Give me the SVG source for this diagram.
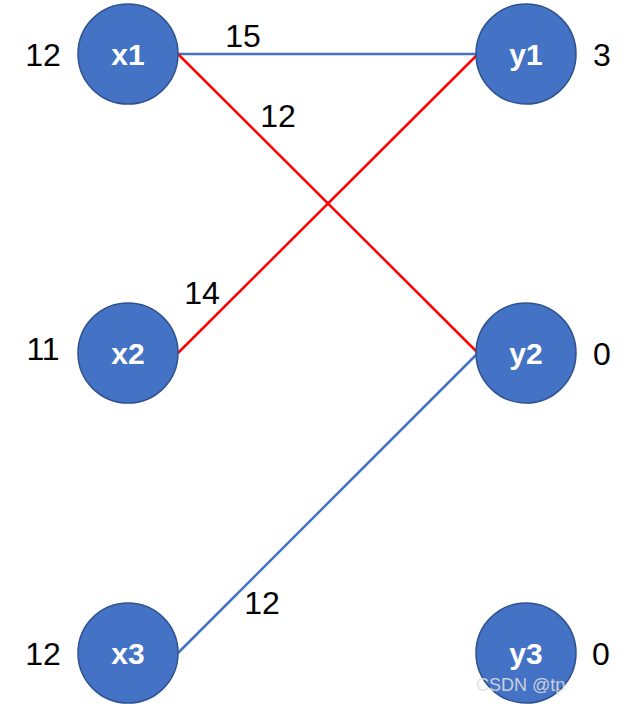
<svg xmlns="http://www.w3.org/2000/svg" width="635" height="704" viewBox="0 0 635 704">
<style>
.n{fill:#4472c4;stroke:#2f528f;stroke-width:1.5}
.nl{font-family:"Liberation Sans",Arial,sans-serif;font-size:30px;font-weight:bold;fill:#fff;text-anchor:middle}
.t{font-family:"Liberation Sans",Arial,sans-serif;font-size:32px;fill:#000;text-anchor:middle}
.b{stroke:#4472c4;stroke-width:2.5}
.r{stroke:#ff0000;stroke-width:2.5}
</style>
<rect width="635" height="704" fill="#fff"/>
<g id="connectors">
<line class="b" x1="178" y1="54" x2="478" y2="54"/>
<line class="r" x1="178" y1="54" x2="478" y2="353"/>
<line class="r" x1="178" y1="353" x2="478" y2="54"/>
<line class="b" x1="178" y1="653" x2="478" y2="353"/>
</g>
<g id="x1"><circle class="n" cx="128" cy="54" r="50"/><text class="nl" x="128" y="65">x1</text></g>
<g id="x2"><circle class="n" cx="128" cy="353" r="50"/><text class="nl" x="128" y="364">x2</text></g>
<g id="x3"><circle class="n" cx="128" cy="653" r="50"/><text class="nl" x="128" y="664">x3</text></g>
<g id="y1"><circle class="n" cx="526" cy="54" r="50"/><text class="nl" x="526" y="65">y1</text></g>
<g id="y2"><circle class="n" cx="526" cy="353" r="50"/><text class="nl" x="526" y="364">y2</text></g>
<g id="y3"><circle class="n" cx="526" cy="653" r="50"/><text class="nl" x="526" y="664">y3</text></g>
<g id="labels">
<text class="t" x="43" y="66">12</text>
<text class="t" x="43" y="360">11</text>
<text class="t" x="43" y="665">12</text>
<text class="t" x="602" y="66">3</text>
<text class="t" x="602" y="365">0</text>
<text class="t" x="601" y="665">0</text>
<text class="t" x="243" y="47">15</text>
<text class="t" x="278" y="127">12</text>
<text class="t" x="202" y="304">14</text>
<text class="t" x="262" y="614">12</text>
<text x="476" y="691" font-family="'Liberation Sans',Arial,sans-serif" font-size="18" fill="#e0e0e0" opacity="0.85">CSDN @tp</text>
</g>
</svg>
